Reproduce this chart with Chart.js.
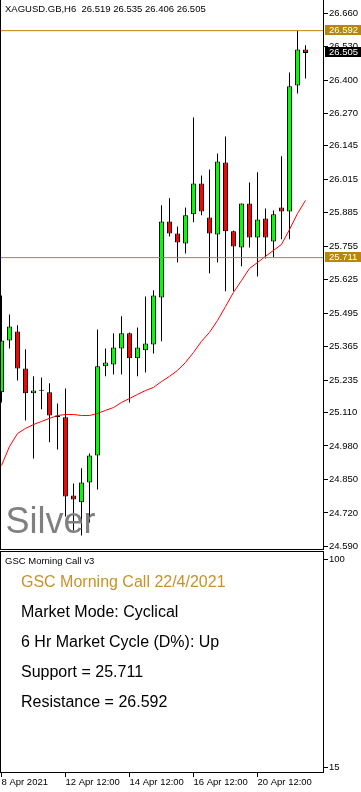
<!DOCTYPE html>
<html>
<head>
<meta charset="utf-8">
<title>XAGUSD.GB,H6</title>
<script src="https://cdn.jsdelivr.net/npm/chart.js@4.4.1/dist/chart.umd.min.js"></script>
<style>
  html, body { margin: 0; padding: 0; background: #fff; }
  body { position: relative; width: 361px; height: 792px; overflow: hidden;
         font-family: "Liberation Sans", Arial, sans-serif; color: #000; }
  canvas { position: absolute; left: 0; }
  #chartPrice { top: 0; }
  #chartPanel { top: 551px; }
  .label { position: absolute; white-space: pre; }
  #title { left: 5px; top: 3.5px; font-size: 9.5px; line-height: 10px; }
  #watermark { left: 5.5px; top: 503px; font-size: 36px; line-height: 36px; color: #808080; }
  #panelName { left: 5px; top: 556px; font-size: 9.5px; line-height: 10px; }
  .info { left: 21px; font-size: 16px; line-height: 16px; }
  .gold { color: #c8922a; }
</style>
</head>
<body>
<canvas id="chartPrice" width="361" height="550"></canvas>
<canvas id="chartPanel" width="361" height="241"></canvas>
<div id="title" class="label"></div>
<div id="watermark" class="label">Silver</div>
<div id="panelName" class="label">GSC Morning Call v3</div>
<script>
  const symbol = "XAGUSD.GB";
  const timeframe = "H6";

  // H6 candles, oldest first
  const open  = [25.188, 25.389, 25.424, 25.281, 25.184, 25.194, 25.188, 25.098, 25.091, 24.788,
                 24.761, 24.838, 24.943, 25.289, 25.296, 25.358, 25.417, 25.320, 25.351, 25.374,
                 25.556, 25.851, 25.805, 25.766, 25.879, 25.999, 25.867, 25.801, 26.080, 25.813,
                 25.750, 25.921, 25.789, 25.863, 25.774, 25.906, 25.890, 26.379, 26.519];
  const high  = [25.564, 25.490, 25.448, 25.355, 25.250, 25.246, 25.223, 25.145, 25.203, 24.834,
                 24.893, 24.951, 25.432, 25.358, 25.417, 25.483, 25.420, 25.440, 25.560, 25.584,
                 25.914, 25.941, 25.832, 25.906, 26.255, 26.030, 26.053, 26.115, 26.181, 25.816,
                 25.921, 26.003, 26.042, 25.902, 25.894, 26.104, 26.430, 26.593, 26.535];
  const low   = [25.149, 25.358, 25.234, 25.079, 24.931, 25.122, 24.994, 24.966, 24.706, 24.652,
                 24.632, 24.683, 24.811, 25.250, 25.257, 25.257, 25.149, 25.250, 25.265, 25.339,
                 25.386, 25.793, 25.692, 25.727, 25.848, 25.875, 25.650, 25.692, 25.580, 25.580,
                 25.677, 25.750, 25.638, 25.708, 25.712, 25.782, 25.782, 26.348, 26.406];
  const close = [25.389, 25.444, 25.281, 25.184, 25.195, 25.196, 25.098, 25.091, 24.784, 24.772,
                 24.838, 24.943, 25.289, 25.304, 25.362, 25.417, 25.320, 25.362, 25.378, 25.564,
                 25.851, 25.805, 25.770, 25.875, 25.999, 25.890, 25.805, 26.084, 25.813, 25.754,
                 25.921, 25.789, 25.859, 25.789, 25.879, 25.890, 26.376, 26.519, 26.505];

  // moving average (red line)
  const ma = [24.904, 24.978, 25.028, 25.048, 25.063, 25.075, 25.087, 25.098, 25.102, 25.102,
              25.098, 25.098, 25.106, 25.118, 25.129, 25.149, 25.164, 25.180, 25.195, 25.207,
              25.230, 25.250, 25.273, 25.304, 25.343, 25.386, 25.421, 25.467, 25.521, 25.576,
              25.622, 25.669, 25.692, 25.716, 25.739, 25.762, 25.820, 25.882, 25.933];

  const resistance = 26.592;
  const support = 25.711;

  const priceTicks = [26.660, 26.530, 26.400, 26.270, 26.145, 26.015, 25.885, 25.755, 25.625,
                      25.495, 25.365, 25.235, 25.110, 24.980, 24.850, 24.720, 24.590];
  const dateTickIdx = [0, 8, 16, 24, 32];
  const dateTickText = ["8 Apr 2021", "12 Apr 12:00", "14 Apr 12:00", "16 Apr 12:00", "20 Apr 12:00"];
  const panelTicks = [100, 15];

  // visible ranges
  const X_MIN = -0.1875, X_MAX = 40.3125;
  const Y_MIN = 24.576, Y_MAX = 26.711;
  const PANEL_MIN = 12.55, PANEL_MAX = 103.27;

  const UP = "#00ff00";
  const DOWN = "#ff0000";
  const LEVEL_COLOR = "#b8860b";
  const font = { family: "Liberation Sans", size: 9.5 };

  const n = close.length - 1;
  const idx = close.map((_, i) => i);

  document.getElementById("title").textContent =
    `${symbol},${timeframe}  ${open[n].toFixed(3)} ${high[n].toFixed(3)} ${low[n].toFixed(3)} ${close[n].toFixed(3)}`;

  const infoLines = [
    { text: "GSC Morning Call 22/4/2021", gold: true },
    { text: "Market Mode: Cyclical" },
    { text: "6 Hr Market Cycle (D%): Up" },
    { text: "Support = " + support.toFixed(3) },
    { text: "Resistance = " + resistance.toFixed(3) }
  ];
  infoLines.forEach((l, i) => {
    const d = document.createElement("div");
    d.className = "label info" + (l.gold ? " gold" : "");
    d.style.top = (573.5 + i * 30) + "px";
    d.textContent = l.text;
    document.body.appendChild(d);
  });

  // black frame round the chart area
  const frame = {
    id: "frame",
    afterDraw(chart, args, opts) {
      const { ctx, chartArea: a } = chart;
      ctx.save();
      ctx.strokeStyle = "#000";
      ctx.lineWidth = 1;
      ctx.beginPath();
      if (opts.top) {
        ctx.moveTo(a.left, a.top + 0.5);
        ctx.lineTo(a.right, a.top + 0.5);
      }
      ctx.moveTo(a.left + 0.5, a.top);
      ctx.lineTo(a.left + 0.5, a.bottom);
      ctx.moveTo(a.left, a.bottom - 0.5);
      ctx.lineTo(a.right, a.bottom - 0.5);
      ctx.moveTo(a.right - 0.5, a.top);
      ctx.lineTo(a.right - 0.5, a.bottom);
      ctx.stroke();
      ctx.restore();
    }
  };

  // coloured price boxes on the right axis
  const priceTags = {
    id: "priceTags",
    afterDraw(chart) {
      const { ctx, chartArea: a, scales: { y } } = chart;
      const tags = [
        { v: resistance, bg: LEVEL_COLOR },
        { v: support, bg: LEVEL_COLOR },
        { v: close[n], bg: "#000" }
      ];
      ctx.save();
      ctx.font = "9.5px 'Liberation Sans'";
      ctx.textBaseline = "middle";
      ctx.textAlign = "left";
      tags.forEach(t => {
        const py = Math.round(y.getPixelForValue(t.v));
        ctx.fillStyle = t.bg;
        ctx.fillRect(a.right + 1, py - 6, 36, 10);
        ctx.fillStyle = "#fff";
        ctx.fillText(t.v.toFixed(3), a.right + 5, py - 1);
      });
      ctx.restore();
    }
  };

  const common = {
    responsive: false,
    animation: false,
    devicePixelRatio: 1,
    events: [],
    layout: { padding: 0, autoPadding: false }
  };

  new Chart(document.getElementById("chartPrice"), {
    type: "bar",
    data: {
      datasets: [
        {
          label: "wick",
          data: idx.map(i => ({ x: i, y: [low[i], high[i]] })),
          backgroundColor: "#000",
          borderWidth: 0,
          barThickness: 1,
          order: 4
        },
        {
          label: "body",
          data: idx.map(i => ({ x: i, y: [open[i], close[i]] })),
          backgroundColor: idx.map(i => close[i] >= open[i] ? UP : DOWN),
          borderColor: "#000",
          borderWidth: 1,
          borderSkipped: false,
          barThickness: 5,
          minBarLength: 1,
          order: 3
        },
        {
          type: "line",
          label: "MA",
          data: idx.map(i => ({ x: i, y: ma[i] })),
          borderColor: DOWN,
          borderWidth: 1,
          pointRadius: 0,
          order: 2
        },
        {
          type: "line",
          label: "Resistance",
          data: [{ x: X_MIN, y: resistance }, { x: X_MAX, y: resistance }],
          borderColor: LEVEL_COLOR,
          borderWidth: 1,
          pointRadius: 0,
          order: 1
        },
        {
          type: "line",
          label: "Support",
          data: [{ x: X_MIN, y: support }, { x: X_MAX, y: support }],
          borderColor: LEVEL_COLOR,
          borderWidth: 1,
          pointRadius: 0,
          order: 1
        }
      ]
    },
    options: {
      ...common,
      datasets: { bar: { grouped: false, inflateAmount: 0 } },
      plugins: { legend: { display: false }, tooltip: { enabled: false }, frame: { top: false } },
      scales: {
        x: { type: "linear", display: false, min: X_MIN, max: X_MAX, offset: false },
        y: {
          type: "linear",
          position: "right",
          min: Y_MIN,
          max: Y_MAX,
          afterBuildTicks: s => { s.ticks = priceTicks.map(v => ({ value: v })); },
          afterFit: s => { s.width = 37; s.paddingTop = 0; s.paddingBottom = 0; },
          grid: { drawOnChartArea: false, tickLength: 4, tickColor: "#000" },
          border: { display: false },
          ticks: { color: "#000", font, padding: 1, autoSkip: false, callback: v => v.toFixed(3) }
        }
      }
    },
    plugins: [frame, priceTags]
  });

  new Chart(document.getElementById("chartPanel"), {
    type: "line",
    data: { datasets: [] },
    options: {
      ...common,
      plugins: { legend: { display: false }, tooltip: { enabled: false }, frame: { top: true } },
      scales: {
        x: {
          type: "linear",
          min: X_MIN,
          max: X_MAX,
          offset: false,
          afterBuildTicks: s => { s.ticks = dateTickIdx.map(v => ({ value: v })); },
          afterFit: s => { s.height = 19; s.paddingLeft = 0; s.paddingRight = 0; },
          grid: { drawOnChartArea: false, tickLength: 4, tickColor: "#000" },
          border: { display: false },
          ticks: {
            color: "#000", font, padding: 0, align: "start", maxRotation: 0, autoSkip: false,
            callback: v => dateTickText[dateTickIdx.indexOf(v)]
          }
        },
        y: {
          type: "linear",
          position: "right",
          min: PANEL_MIN,
          max: PANEL_MAX,
          afterBuildTicks: s => { s.ticks = panelTicks.map(v => ({ value: v })); },
          afterFit: s => { s.width = 37; s.paddingTop = 0; s.paddingBottom = 0; },
          grid: { drawOnChartArea: false, tickLength: 4, tickColor: "#000" },
          border: { display: false },
          ticks: { color: "#000", font, padding: 1, autoSkip: false, callback: v => String(v) }
        }
      }
    },
    plugins: [frame]
  });
</script>
</body>
</html>
